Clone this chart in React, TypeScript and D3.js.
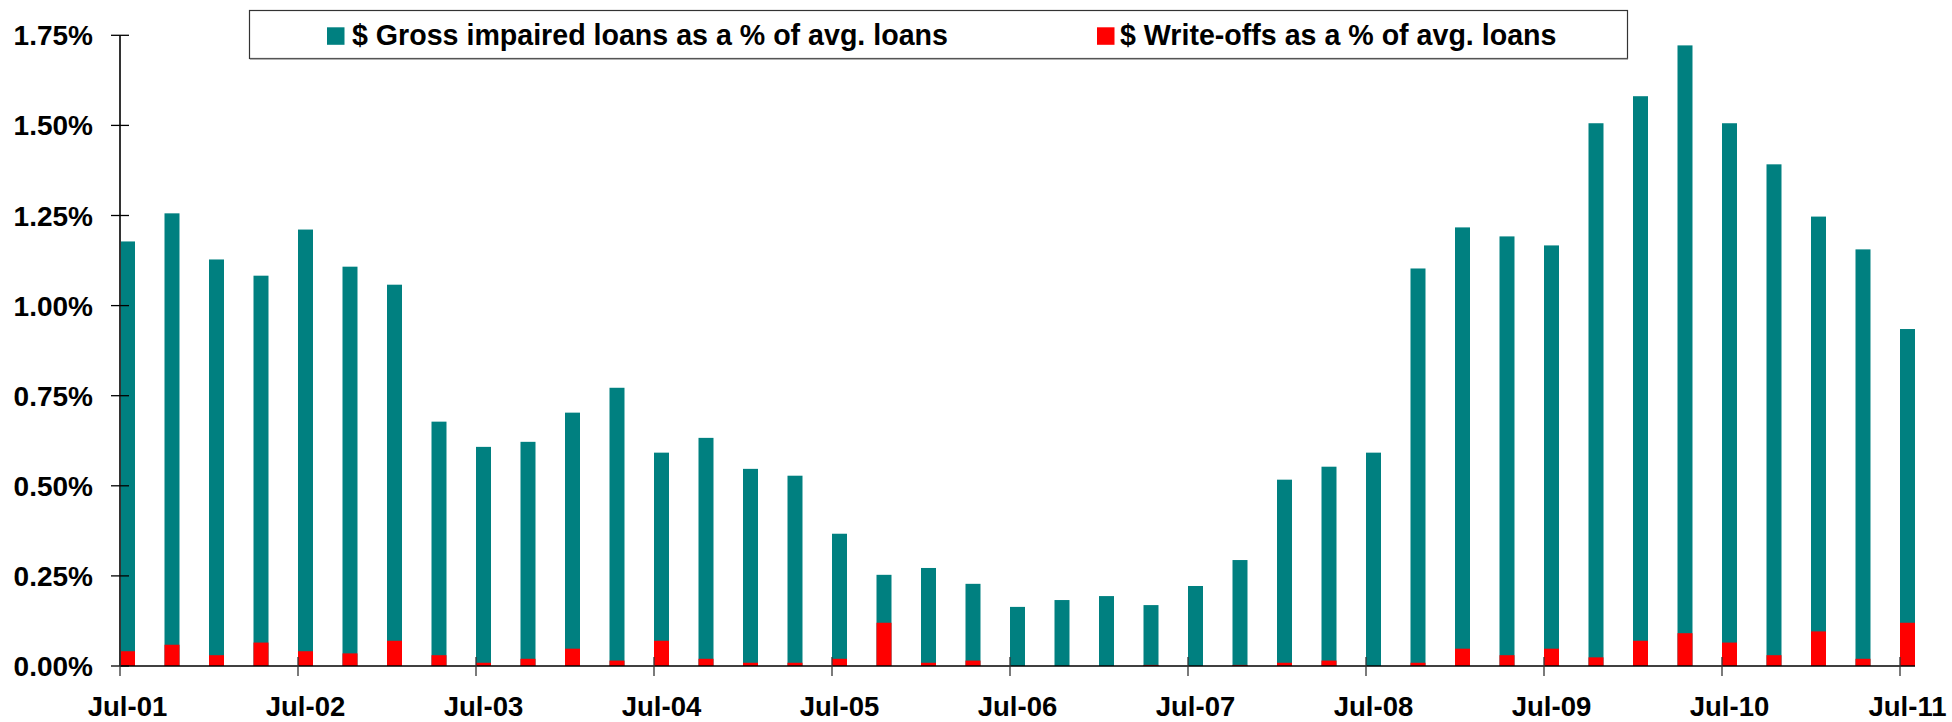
import React from "react";
import * as d3 from "d3";

const quarters = [
  "Jul-01", "Oct-01", "Jan-02", "Apr-02", "Jul-02", "Oct-02", "Jan-03", "Apr-03",
  "Jul-03", "Oct-03", "Jan-04", "Apr-04", "Jul-04", "Oct-04", "Jan-05", "Apr-05",
  "Jul-05", "Oct-05", "Jan-06", "Apr-06", "Jul-06", "Oct-06", "Jan-07", "Apr-07",
  "Jul-07", "Oct-07", "Jan-08", "Apr-08", "Jul-08", "Oct-08", "Jan-09", "Apr-09",
  "Jul-09", "Oct-09", "Jan-10", "Apr-10", "Jul-10", "Oct-10", "Jan-11", "Apr-11",
  "Jul-11",
];

const grossImpaired = [
  1.178, 1.256, 1.128, 1.083, 1.211, 1.108, 1.058, 0.678,
  0.608, 0.622, 0.703, 0.772, 0.592, 0.633, 0.547, 0.528,
  0.367, 0.253, 0.272, 0.228, 0.164, 0.183, 0.194, 0.169,
  0.222, 0.294, 0.517, 0.553, 0.592, 1.103, 1.217, 1.192,
  1.167, 1.506, 1.581, 1.722, 1.506, 1.392, 1.247, 1.156,
  0.935,
];

const writeOffs = [
  0.041, 0.059, 0.030, 0.065, 0.041, 0.035, 0.070, 0.030,
  0.009, 0.020, 0.048, 0.015, 0.070, 0.020, 0.009, 0.009,
  0.020, 0.120, 0.009, 0.015, 0.0, 0.0, 0.0, 0.003,
  0.0, 0.003, 0.009, 0.015, 0.0, 0.009, 0.048, 0.030,
  0.048, 0.024, 0.070, 0.091, 0.065, 0.030, 0.096, 0.020,
  0.120,
];

const yTicks = [0, 0.25, 0.5, 0.75, 1.0, 1.25, 1.5, 1.75];
const xTickLabels = ["Jul-01", "Jul-02", "Jul-03", "Jul-04", "Jul-05", "Jul-06", "Jul-07", "Jul-08", "Jul-09", "Jul-10", "Jul-11"];

const seriesNames = [
  "$ Gross impaired loans as a % of avg. loans",
  "$ Write-offs as a % of avg. loans",
];

const TEAL = "#008080";
const RED = "#FF0000";
const FONT = "'Liberation Sans', Arial, Helvetica, sans-serif";

export default function App() {
  const W = 1952;
  const H = 722;
  const x = d3.scaleLinear().domain([0, quarters.length - 1]).range([120, 1900]);
  const y = d3.scaleLinear().domain([0, 1.75]).range([666, 35.3]);
  const step = x(1) - x(0);
  const bw = step * 0.337;
  const fmt = d3.format(".2f");

  return (
    <svg
      width={W}
      height={H}
      style={{ position: "absolute", left: 0, top: 0, background: "#fff" }}
      fontFamily={FONT}
      fontWeight="bold"
    >
      <rect x={0} y={0} width={W} height={H} fill="#fff" />
      {grossImpaired.map((v, i) => (
        <rect key={"g" + i} x={x(i)} y={y(v)} width={bw} height={y(0) - y(v)} fill={TEAL} />
      ))}
      {writeOffs.map((v, i) =>
        v > 0 ? (
          <rect key={"w" + i} x={x(i)} y={y(v)} width={bw} height={y(0) - y(v)} fill={RED} />
        ) : null
      )}
      <line x1={120} x2={120} y1={y(1.75)} y2={y(0)} stroke="#333" strokeWidth={2} />
      {yTicks.map((t) => (
        <g key={"yt" + t}>
          <line x1={111} x2={129} y1={y(t)} y2={y(t)} stroke="#000" strokeWidth={1.3} />
          <text x={93} y={y(t) + 10} textAnchor="end" fontSize={28} fill="#000">
            {fmt(t)}%
          </text>
        </g>
      ))}
      <line x1={120} x2={x(quarters.length - 1) + bw} y1={y(0)} y2={y(0)} stroke="#000" strokeWidth={1.5} />
      {xTickLabels.map((lab) => {
        const i = quarters.indexOf(lab);
        return (
          <g key={"xt" + lab}>
            <line x1={x(i)} x2={x(i)} y1={657} y2={676} stroke="#333" strokeWidth={1.3} />
            <text x={x(i) + bw / 2} y={716} textAnchor="middle" fontSize={27.5} fill="#000">
              {lab}
            </text>
          </g>
        );
      })}
      <rect x={249.5} y={10.5} width={1378} height={48} fill="#fff" stroke="#333" strokeWidth={1.2} />
      <line x1={250} x2={1628} y1={59} y2={59} stroke="#777" strokeWidth={1} />
      <rect x={327} y={27.3} width={17.5} height={17.5} fill={TEAL} />
      <text x={352} y={45} fontSize={28.6} fill="#000">{seriesNames[0]}</text>
      <rect x={1097} y={27.3} width={17.5} height={17.5} fill={RED} />
      <text x={1120} y={45} fontSize={28.6} fill="#000">{seriesNames[1]}</text>
    </svg>
  );
}
